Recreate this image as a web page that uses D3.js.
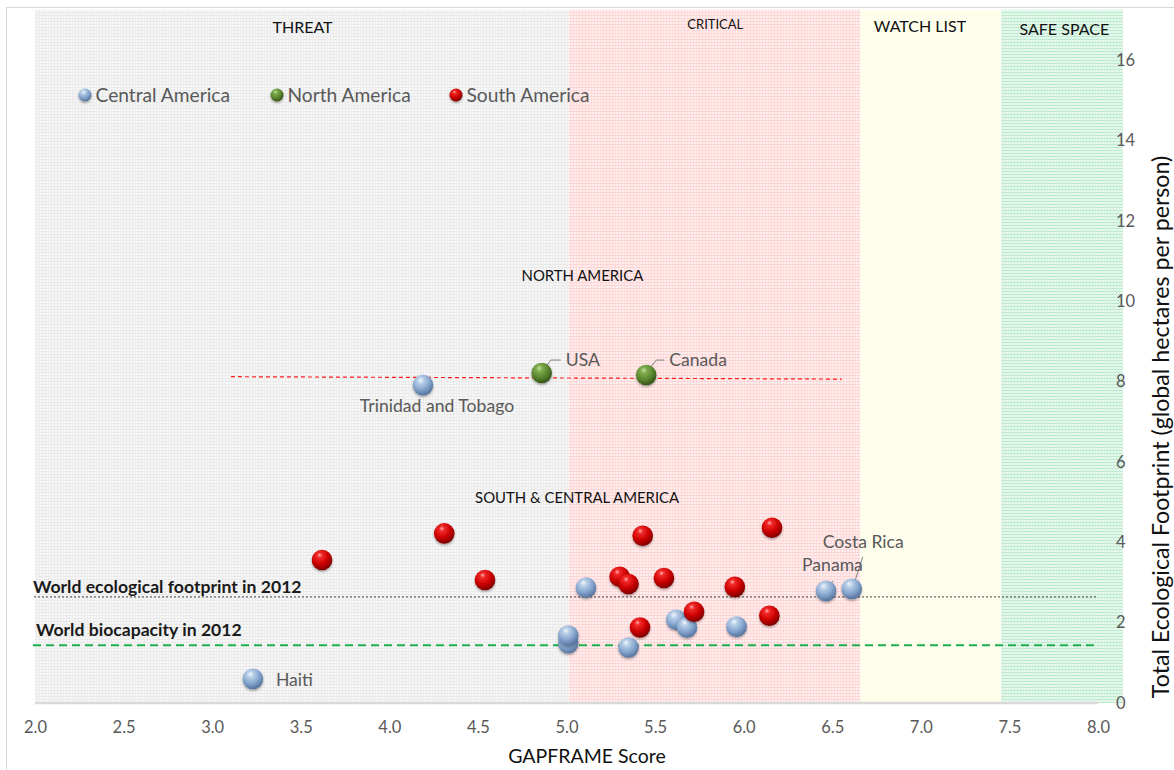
<!DOCTYPE html>
<html><head><meta charset="utf-8">
<script src="https://cdn.jsdelivr.net/npm/d3@7"></script>
<style>body{margin:0;background:#fff}svg{display:block}</style>
</head><body>
<svg id="chart" width="1174" height="770"></svg>
<script>
// ---------- DATA ----------
const xTicks = [2.0, 2.5, 3.0, 3.5, 4.0, 4.5, 5.0, 5.5, 6.0, 6.5, 7.0, 7.5, 8.0];
const yTicks = [0, 2, 4, 6, 8, 10, 12, 14, 16];
const seriesNames = ["Central America", "North America", "South America"];

const centralAmerica = [
  {name: "Trinidad and Tobago", x: 4.19, y: 7.91},
  {name: "Haiti", x: 3.23, y: 0.60},
  {name: "", x: 5.11, y: 2.87},
  {name: "", x: 5.01, y: 1.49},
  {name: "", x: 5.01, y: 1.68},
  {name: "", x: 5.35, y: 1.38},
  {name: "", x: 5.62, y: 2.07},
  {name: "", x: 5.68, y: 1.88},
  {name: "", x: 5.96, y: 1.90},
  {name: "Panama", x: 6.465, y: 2.79},
  {name: "Costa Rica", x: 6.61, y: 2.84}
];
const northAmerica = [
  {name: "USA", x: 4.86, y: 8.21},
  {name: "Canada", x: 5.45, y: 8.16}
];
const southAmerica = [
  {name: "", x: 3.62, y: 3.56},
  {name: "", x: 4.31, y: 4.22},
  {name: "", x: 4.54, y: 3.06},
  {name: "", x: 5.43, y: 4.16},
  {name: "", x: 6.16, y: 4.36},
  {name: "", x: 5.30, y: 3.14},
  {name: "", x: 5.35, y: 2.96},
  {name: "", x: 5.55, y: 3.11},
  {name: "", x: 5.95, y: 2.89},
  {name: "", x: 5.72, y: 2.27},
  {name: "", x: 5.415, y: 1.88},
  {name: "", x: 6.145, y: 2.17}
];

const zoneNames = ["THREAT", "CRITICAL", "WATCH LIST", "SAFE SPACE"];
const zoneBounds = [2.0, 5.013, 6.659, 7.454, 8.14];
const zoneTop = 17.25;
const zoneLabelX = [3.51, 5.84, 6.995, 7.81];

const worldFootprint2012 = 2.64;
const worldBiocapacity2012 = 1.44;
const refLineRange = [2.0, 8.0];
const northAmericaTrend = [{x: 3.106, y: 8.12}, {x: 6.554, y: 8.06}];

const groupLabels = [
  {text: "NORTH AMERICA", x: 5.09, y: 10.5},
  {text: "SOUTH & CENTRAL AMERICA", x: 5.06, y: 4.98}
];

// ---------- LAYOUT / STYLE ----------
const W = 1174, H = 770;
const svg = d3.select("#chart");
const x = d3.scaleLinear().domain([2, 8]).range([35, 1098]);
const y = d3.scaleLinear().domain([0, 16]).range([703, 60]);
const FONT = "Lato, 'Open Sans', sans-serif";

const labelStyle = {
  "Trinidad and Tobago": {dx: 14, dy: 27, anchor: "middle", leader: null},
  "Haiti": {dx: 23, dy: 7, anchor: "start", leader: null},
  "USA": {dx: 24, dy: -7, anchor: "start", leader: [[0, 0], [9, -13], [19, -13]]},
  "Canada": {dx: 23, dy: -9, anchor: "start", leader: [[0, -2], [10, -15], [18, -15]]},
  "Panama": {dx: -24, dy: -20, anchor: "start", leader: [[1, -3], [7, -10]]},
  "Costa Rica": {dx: -29, dy: -41, anchor: "start", leader: [[1, -1], [11, -32]]}
};

const defs = svg.append("defs");
function gridPattern(id, base, line, vline, size) {
  const p = defs.append("pattern").attr("id", id).attr("patternUnits", "userSpaceOnUse")
    .attr("width", size).attr("height", size);
  p.append("rect").attr("width", size).attr("height", size).attr("fill", base);
  p.append("rect").attr("width", size).attr("height", 1).attr("fill", line);
  p.append("rect").attr("width", 1).attr("height", size).attr("fill", vline);
}
gridPattern("pGray", "#f7f7f7", "#e9e9e9", "#ececec", 3);
gridPattern("pPink", "#fff0f0", "#ffd3d3", "#ffdada", 3);
gridPattern("pYellow", "#fffff4", "#fdfde2", "#fefee8", 3);
gridPattern("pGreen", "#ebf9f1", "#b2e7ca", "#cff1de", 3);
const zoneFills = ["url(#pGray)", "url(#pPink)", "url(#pYellow)", "url(#pGreen)"];

function sphereGrad(id, stops) {
  const g = defs.append("radialGradient").attr("id", id)
    .attr("cx", "40%").attr("cy", "32%").attr("r", "68%").attr("fx", "38%").attr("fy", "26%");
  stops.forEach(s => g.append("stop").attr("offset", s[0]).attr("stop-color", s[1]));
}
sphereGrad("gBlue", [["0%", "#f3f7fc"], ["22%", "#b9cfe8"], ["62%", "#86a6cf"], ["88%", "#6584ad"], ["100%", "#55739b"]]);
sphereGrad("gGreen", [["0%", "#c7e1a4"], ["22%", "#7fac4d"], ["62%", "#5b8630"], ["88%", "#41641f"], ["100%", "#34521a"]]);
sphereGrad("gRed", [["0%", "#ffb0b0"], ["18%", "#f22a2a"], ["60%", "#cc0000"], ["88%", "#960000"], ["100%", "#7a0000"]]);
const seriesFill = ["url(#gBlue)", "url(#gGreen)", "url(#gRed)"];

const shadow = defs.append("filter").attr("id", "shadow").attr("x", "-50%").attr("y", "-50%")
  .attr("width", "200%").attr("height", "200%");
shadow.append("feDropShadow").attr("dx", 0).attr("dy", 1.5).attr("stdDeviation", 1.2)
  .attr("flood-color", "#000").attr("flood-opacity", 0.35);

// chart frame
svg.append("rect").attr("x", 6.5).attr("y", 7.5).attr("width", W).attr("height", H)
  .attr("fill", "#fff").attr("stroke", "#d9d9d9");

// zones
const zones = zoneNames.map((n, i) => ({name: n, from: zoneBounds[i], to: zoneBounds[i + 1], lx: zoneLabelX[i], fill: zoneFills[i]}));
svg.append("g").selectAll("rect").data(zones).join("rect")
  .attr("x", d => x(d.from)).attr("width", d => x(d.to) - x(d.from))
  .attr("y", y(zoneTop)).attr("height", y(0) - y(zoneTop))
  .attr("fill", d => d.fill);
const zoneFont = {"THREAT": 16, "CRITICAL": 13, "WATCH LIST": 16, "SAFE SPACE": 16};
const zoneBase = {"THREAT": 33, "CRITICAL": 29, "WATCH LIST": 32, "SAFE SPACE": 35};
svg.append("g").selectAll("text").data(zones).join("text")
  .attr("x", d => x(d.lx)).attr("y", d => zoneBase[d.name])
  .attr("text-anchor", "middle").attr("font-family", FONT)
  .attr("font-size", d => zoneFont[d.name]).attr("fill", "#111")
  .text(d => d.name);

// x axis line
svg.append("line").attr("x1", x(2)).attr("x2", x(8)).attr("y1", y(0)).attr("y2", y(0))
  .attr("stroke", "#d9d9d9").attr("stroke-width", 2.5);

// axes (labels only)
const xAxis = d3.axisBottom(x).tickValues(xTicks).tickFormat(d3.format(".1f")).tickSize(0).tickPadding(18);
const gx = svg.append("g").attr("transform", `translate(0,${y(0)})`).call(xAxis);
gx.select(".domain").remove();
gx.selectAll("text").attr("font-family", FONT).attr("font-size", 16.5).attr("fill", "#595959");

const yAxis = d3.axisRight(y).tickValues(yTicks).tickFormat(d3.format("d")).tickSize(0).tickPadding(0);
const gy = svg.append("g").attr("transform", `translate(1116,0)`).call(yAxis);
gy.select(".domain").remove();
gy.selectAll("text").attr("font-family", FONT).attr("font-size", 16.5).attr("fill", "#595959");

// axis titles
svg.append("text").attr("x", 587).attr("y", 763).attr("text-anchor", "middle")
  .attr("font-family", FONT).attr("font-size", 19.5).attr("fill", "#111").text("GAPFRAME Score");
svg.append("text").attr("transform", "translate(1169,427) rotate(-90)").attr("text-anchor", "middle")
  .attr("font-family", FONT).attr("font-size", 23.2).attr("fill", "#111")
  .text("Total Ecological Footprint (global hectares per person)");

// reference lines
svg.append("line").attr("x1", x(refLineRange[0]) - 1).attr("x2", x(refLineRange[1]))
  .attr("y1", y(worldFootprint2012)).attr("y2", y(worldFootprint2012))
  .attr("stroke", "#404040").attr("stroke-width", 1).attr("stroke-dasharray", "2,2");
svg.append("line").attr("x1", x(refLineRange[0]) - 2).attr("x2", x(refLineRange[1]))
  .attr("y1", y(worldBiocapacity2012)).attr("y2", y(worldBiocapacity2012))
  .attr("stroke", "#1fae4f").attr("stroke-width", 2).attr("stroke-dasharray", "8,5");
svg.append("path").datum(northAmericaTrend)
  .attr("d", d3.line().x(d => x(d.x)).y(d => y(d.y)))
  .attr("fill", "none").attr("stroke", "#ff1a1a").attr("stroke-width", 1.2).attr("stroke-dasharray", "4,3");

svg.append("text").attr("x", x(refLineRange[0]) - 2).attr("y", y(worldFootprint2012) - 4)
  .attr("font-family", FONT).attr("font-size", 17.6).attr("font-weight", "bold").attr("fill", "#1a1a1a")
  .text("World ecological footprint in 2012");
svg.append("text").attr("x", x(refLineRange[0]) + 1).attr("y", y(worldBiocapacity2012) - 9)
  .attr("font-family", FONT).attr("font-size", 17.6).attr("font-weight", "bold").attr("fill", "#1a1a1a")
  .text("World biocapacity in 2012");

// group labels
svg.append("g").selectAll("text").data(groupLabels).join("text")
  .attr("x", d => x(d.x)).attr("y", d => y(d.y)).attr("text-anchor", "middle")
  .attr("font-family", FONT).attr("font-size", 14.9).attr("fill", "#111").text(d => d.text);

// legend
const legend = svg.append("g").selectAll("g").data(seriesNames).join("g")
  .attr("transform", (d, i) => `translate(${[85, 277, 456][i]},95)`);
legend.append("circle").attr("r", 6.5).attr("fill", (d, i) => seriesFill[i]).attr("filter", "url(#shadow)");
legend.append("text").attr("x", 10.5).attr("y", 7).attr("font-family", FONT).attr("font-size", 19.2)
  .attr("fill", "#595959").text(d => d);

// leader lines (drawn beneath markers)
const labelled = centralAmerica.concat(northAmerica).filter(d => labelStyle[d.name]);
const lab = svg.append("g");
labelled.forEach(d => {
  const s = labelStyle[d.name], px = x(d.x), py = y(d.y);
  if (s.leader) {
    lab.append("path").attr("d", d3.line()(s.leader.map(p => [px + p[0], py + p[1]])))
      .attr("fill", "none").attr("stroke", "#7f7f7f").attr("stroke-width", 1);
  }
});

// markers
const allSeries = [centralAmerica, northAmerica, southAmerica];
allSeries.forEach((data, i) => {
  svg.append("g").selectAll("circle").data(data).join("circle")
    .attr("cx", d => x(d.x)).attr("cy", d => y(d.y)).attr("r", 10.3)
    .attr("fill", seriesFill[i]).attr("filter", "url(#shadow)");
});

labelled.forEach(d => {
  const s = labelStyle[d.name], px = x(d.x), py = y(d.y);
  svg.append("text").attr("x", px + s.dx).attr("y", py + s.dy).attr("text-anchor", s.anchor)
    .attr("font-family", FONT).attr("font-size", 17.6).attr("fill", "#595959").text(d.name);
});
</script>
</body></html>
